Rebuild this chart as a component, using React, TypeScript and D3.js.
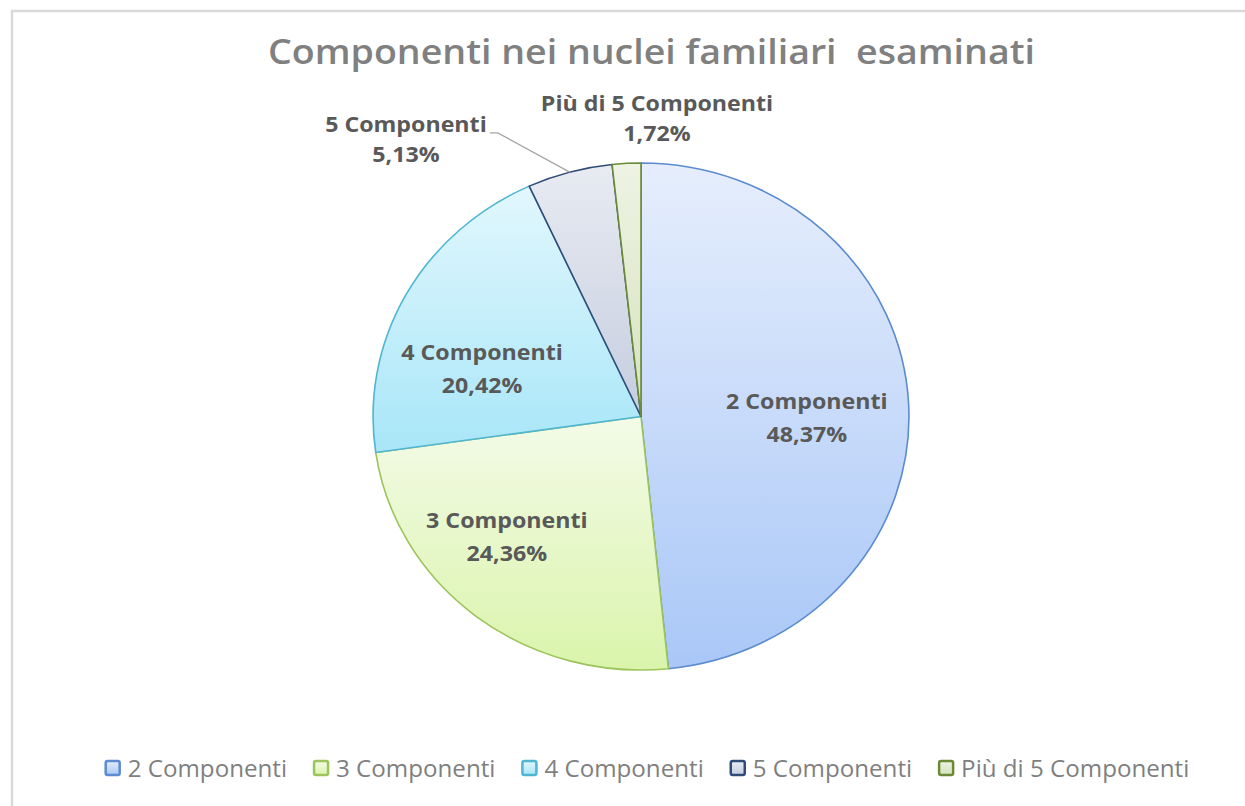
import React, { useEffect, useRef } from "react";
import * as d3 from "d3";

const categories = ["2 Componenti", "3 Componenti", "4 Componenti", "5 Componenti", "Più di 5 Componenti"];
const values = [48.37, 24.36, 20.42, 5.13, 1.72];
const fillTop = ["#e6eefc", "#f3fbe8", "#e2f7fd", "#e8ebf2", "#eef3e4"];
const fillBottom = ["#a9c7f7", "#daf4ab", "#a8e6f8", "#c5cddf", "#d6e2bf"];
const strokes = ["#5b8bd0", "#9cc35c", "#4fb5d1", "#2f4c78", "#6a8a38"];
// label layout (polar, relative to pie radius)
const labelAngleDeg = [90.4, 226.6, 287.5, 321.2, 2.9];
const labelRadiusFrac = [0.619, 0.689, 0.622, 1.4, 1.179];
const labelOutside = [false, false, false, true, false];

const title = "Componenti nei nuclei familiari  esaminati";

const W = 1245;
const H = 806;

export default function App() {
  const ref = useRef<SVGSVGElement | null>(null);

  useEffect(() => {
    const svg = d3.select(ref.current);
    svg.selectAll("*").remove();

    const cx = 641;
    const cy = 416.5;
    const R = 253.5;
    const sx = 1.057;
    const txs = 1.08;

    const fmt = d3.formatLocale({ decimal: ",", thousands: ".", grouping: [3], currency: ["", "€"] }).format(".2f");

    const defs = svg.append("defs");
    categories.forEach((_, i) => {
      const g = defs.append("linearGradient").attr("id", "g" + i).attr("x1", 0).attr("y1", 0).attr("x2", 0).attr("y2", 1);
      g.append("stop").attr("offset", "0%").attr("stop-color", fillTop[i]);
      g.append("stop").attr("offset", "100%").attr("stop-color", fillBottom[i]);
    });

    svg.append("rect").attr("x", 0).attr("y", 0).attr("width", W).attr("height", H).attr("fill", "#ffffff");
    svg.append("rect").attr("x", 12).attr("y", 11).attr("width", W + 50).attr("height", H + 50)
      .attr("fill", "#ffffff").attr("stroke", "#d9d9d9").attr("stroke-width", 2.5);

    svg.append("text").attr("x", 268).attr("y", 64)
      .attr("font-family", "'Open Sans', sans-serif").attr("font-weight", 600).attr("font-size", 34)
      .attr("textLength", 767).attr("lengthAdjust", "spacingAndGlyphs")
      .attr("fill", "#808080").style("white-space", "pre").text(title);

    const pie = d3.pie<number>().sort(null).value((d) => d);
    const arcs = pie(values);
    const arc = d3.arc<d3.PieArcDatum<number>>().innerRadius(0).outerRadius(R);

    const gp = svg.append("g").attr("transform", `translate(${cx},${cy}) scale(${sx},1)`);
    gp.selectAll("path").data(arcs).enter().append("path")
      .attr("d", (d) => arc(d) as string)
      .attr("fill", (_, i) => `url(#g${i})`)
      .attr("stroke", (_, i) => strokes[i])
      .attr("stroke-width", 1.6)
      .attr("stroke-linejoin", "round")
      .attr("vector-effect", "non-scaling-stroke");

    const lab = svg.append("g").attr("font-family", "'Open Sans', sans-serif").attr("font-weight", 700)
      .attr("font-size", 21.5).attr("fill", "#595959").attr("text-anchor", "middle");

    arcs.forEach((a, i) => {
      const th = (labelAngleDeg[i] * Math.PI) / 180;
      const r = labelRadiusFrac[i] * R;
      const x = cx + sx * r * Math.sin(th);
      const y = cy - r * Math.cos(th);
      const gap = labelOutside[i] || i === 4 ? 30 : 33;
      const t1 = lab.append("text").attr("transform", `translate(${x},${y - gap / 2 + 7.5}) scale(${txs},1)`).text(categories[i]);
      lab.append("text").attr("transform", `translate(${x},${y + gap / 2 + 7.5}) scale(${txs},1)`).text(fmt(values[i]) + "%");
      if (labelOutside[i]) {
        const w = (t1.node() as SVGTextElement).getComputedTextLength() * txs;
        const x0 = x + w / 2 + 3;
        const y0 = y - gap / 2 + 8;
        const mid = (a.startAngle + a.endAngle) / 2;
        const ex = cx + sx * R * Math.sin(mid);
        const ey = cy - R * Math.cos(mid);
        svg.append("path")
          .attr("d", d3.line()([[x0, y0], [x0 + 8, y0], [ex, ey]]) as string)
          .attr("fill", "none").attr("stroke", "#a6a6a6").attr("stroke-width", 1.3);
      }
    });

    // legend
    const lg = svg.append("g");
    const sq = 16;
    const lxs = 1.05;
    const items: { g: any; w: number }[] = [];
    categories.forEach((c, i) => {
      const g = lg.append("g");
      g.append("rect").attr("x", 1).attr("y", -sq / 2).attr("width", sq - 2).attr("height", sq - 2)
        .attr("rx", 2).attr("fill", `url(#g${i})`).attr("stroke", strokes[i]).attr("stroke-width", 2.5);
      const t = g.append("text").attr("transform", `translate(${sq + 7},8) scale(${lxs},1)`)
        .attr("font-family", "'Open Sans', sans-serif")
        .attr("font-size", 23).attr("fill", "#7f7f7f").text(c);
      const w = sq + 7 + (t.node() as SVGTextElement).getComputedTextLength() * lxs;
      items.push({ g, w });
    });
    const spacing = 26;
    const total = d3.sum(items, (d) => d.w) + spacing * (items.length - 1);
    let x = 647 - total / 2;
    items.forEach((it) => {
      it.g.attr("transform", `translate(${x},769)`);
      x += it.w + spacing;
    });
  }, []);

  return (
    <svg ref={ref} width={W} height={H} style={{ position: "absolute", left: 0, top: 0 }} />
  );
}
